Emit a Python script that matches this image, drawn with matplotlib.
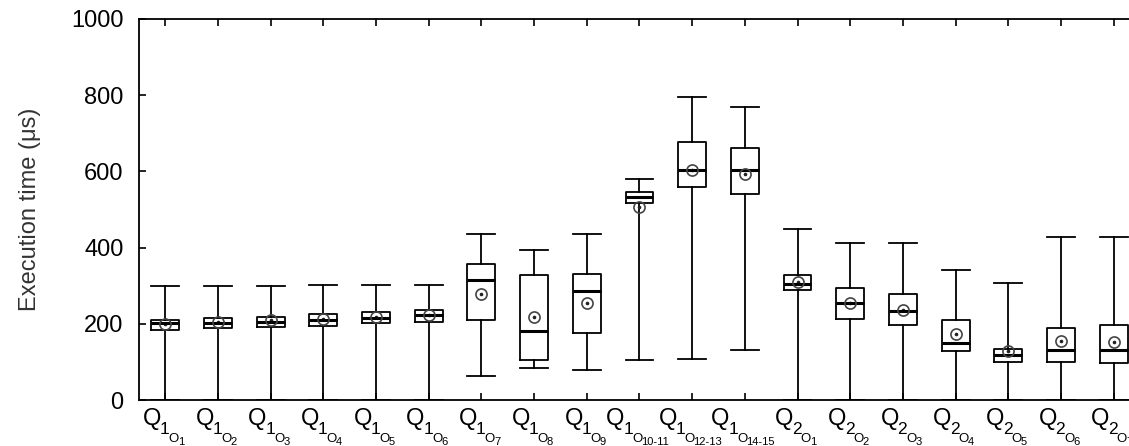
#!/usr/bin/env python3
# -*- coding: utf-8 -*-

import numpy as np
import matplotlib
matplotlib.use('Agg')
import matplotlib.pyplot as plt
from matplotlib.font_manager import FontProperties

plt.rcParams['font.family'] = ['Liberation Sans', 'DejaVu Sans']

# query / option labels
queries = ['1'] * 12 + ['2'] * 7
options = ['1', '2', '3', '4', '5', '6', '7', '8', '9',
           '10-11', '12-13', '14-15',
           '1', '2', '3', '4', '5', '6', '7']

# box statistics (microseconds)
whis_lo = [0, 0, 0, 0, 0, 0, 62, 83, 80, 104, 108, 130,
           0, 0, 0, 0, 0, 0, 0]
q1 = [184, 188, 191, 195, 201, 205, 209, 104, 176, 517, 559, 542,
      289, 213, 196, 129, 100, 100, 96]
median = [201, 201, 204, 211, 216, 222, 314, 182, 287, 533, 603, 603,
          305, 254, 233, 149, 119, 131, 131]
q3 = [210, 215, 219, 227, 231, 235, 358, 327, 331, 547, 677, 661,
      328, 294, 277, 210, 134, 188, 198]
whis_hi = [299, 299, 299, 302, 302, 302, 436, 395, 436, 579, 794, 769,
           449, 411, 411, 340, 306, 429, 429]
means = [200, 205, 209, 213, 218, 222, 279, 217, 255, 507, 603, 592,
         309, 254, 235, 174, 128, 156, 152]


def draw_label(ax, renderer, x, q, o):
    """Q with nested subscripts: Q_{q_{O_{o}}}"""
    # (text, size in pt, baseline drop in pt)
    parts = [('Q', 17, 18.0), (q, 12.5, 24.5), ('O', 9.5, 30.2), (o, 8, 32.4)]
    widths = []
    for s, size, _ in parts:
        w, _, _ = renderer.get_text_width_height_descent(
            s, FontProperties(family='Liberation Sans', size=size), ismath=False)
        widths.append(w * 72.0 / fig.dpi - 0.06 * size)
    dx = -sum(widths) / 2.0 - 1.5
    for (s, size, drop), w in zip(parts, widths):
        ax.annotate(s, xy=(x, 0), xycoords=('data', 'axes fraction'),
                    xytext=(dx, -drop), textcoords='offset points',
                    ha='left', va='baseline', fontsize=size,
                    annotation_clip=False)
        dx += w


fig = plt.figure(figsize=(11.29, 4.46), dpi=100)
ax = fig.add_axes([0.1231, 0.1031, 0.8866, 0.8543])

stats = []
for i in range(len(queries)):
    stats.append(dict(med=median[i], q1=q1[i], q3=q3[i],
                      whislo=whis_lo[i], whishi=whis_hi[i],
                      mean=means[i], fliers=[]))

pos = np.arange(1, len(queries) + 1)
lw = 1.3
ax.bxp(stats, positions=pos, widths=0.53, capwidths=0.53,
       showmeans=True, showfliers=False,
       boxprops=dict(color='black', linewidth=lw),
       whiskerprops=dict(color='black', linewidth=lw),
       capprops=dict(color='black', linewidth=lw),
       medianprops=dict(color='black', linewidth=2.2),
       meanprops=dict(marker='o', markerfacecolor='none',
                      markeredgecolor='#444444', markersize=8,
                      markeredgewidth=1.2))
ax.plot(pos, means, linestyle='none', marker='o', markersize=1.6,
        color='#222222')

ax.set_xlim(0.5, len(queries) + 0.5)
ax.set_ylim(0, 1000)
ax.set_yticks([0, 200, 400, 600, 800, 1000])
ax.set_xticks(pos)
ax.set_xticklabels([])

ax.tick_params(axis='both', direction='in', length=5, width=1.2,
               labelsize=17, colors='black')
ax.tick_params(axis='x', top=True)
ax.tick_params(axis='y', pad=11)
for side in ['left', 'bottom', 'top', 'right']:
    ax.spines[side].set_linewidth(1.3)

ax.set_ylabel('Execution time (\u03bcs)', fontsize=17, color='#333333',
              labelpad=22)

renderer = fig.canvas.get_renderer()
for x, q, o in zip(pos, queries, options):
    draw_label(ax, renderer, x, q, o)

fig.savefig('out.png', dpi=100)
